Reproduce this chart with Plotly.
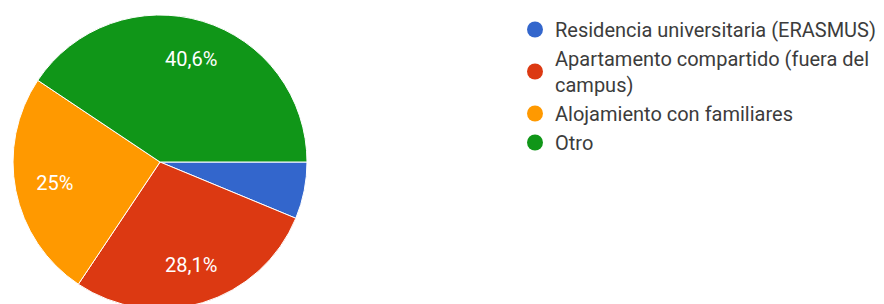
import plotly.graph_objects as go

categories = ["Residencia universitaria (ERASMUS)",
              "Apartamento compartido (fuera del<br>campus)",
              "Alojamiento con familiares",
              "Otro"]
counts = [2, 9, 8, 13]
slice_labels = ["", "28,1%", "25%", "40,6%"]
colors = ["#3366CC", "#DC3912", "#FF9900", "#109618"]

W, H = 884, 330
# page body adds an 8px offset; pie centre ~ (160,162) in window, r ~147
cx, cy, r = 160 - 8, 162 - 8, 147
dom = dict(x=[(cx - r) / W, (cx + r) / W], y=[1 - (cy + r) / H, 1 - (cy - r) / H])

fig = go.Figure()
fig.add_trace(go.Pie(
    labels=categories, values=counts, textinfo="none",
    sort=False, direction="clockwise", rotation=90,
    marker=dict(colors=colors, line=dict(color="white", width=1)),
    showlegend=False, hoverinfo="skip", domain=dom,
))
fig.add_trace(go.Pie(
    labels=categories, values=counts, text=slice_labels, hole=0.46,
    textinfo="text", textposition="inside", insidetextorientation="horizontal",
    sort=False, direction="clockwise", rotation=90,
    marker=dict(colors=["rgba(0,0,0,0)"] * 4, line=dict(width=0)),
    textfont=dict(family="Roboto", size=20, color="white"),
    showlegend=False, hoverinfo="skip", domain=dom,
))
for name, c in zip(categories, colors):
    fig.add_trace(go.Scatter(
        x=[None], y=[None], mode="markers", name=name,
        marker=dict(symbol="circle", size=16, color=c),
    ))
fig.update_layout(
    width=W, height=H, margin=dict(l=0, r=0, t=0, b=0),
    paper_bgcolor="white", plot_bgcolor="white",
    xaxis=dict(visible=False), yaxis=dict(visible=False),
    legend=dict(x=507 / W, y=1 - 2 / H, xanchor="left", yanchor="top",
                font=dict(family="Roboto", size=20, color="#3c3c3c"),
                traceorder="normal", itemsizing="trace", tracegroupgap=0),
    font=dict(family="Roboto"),
)
fig.write_html("out.html")
